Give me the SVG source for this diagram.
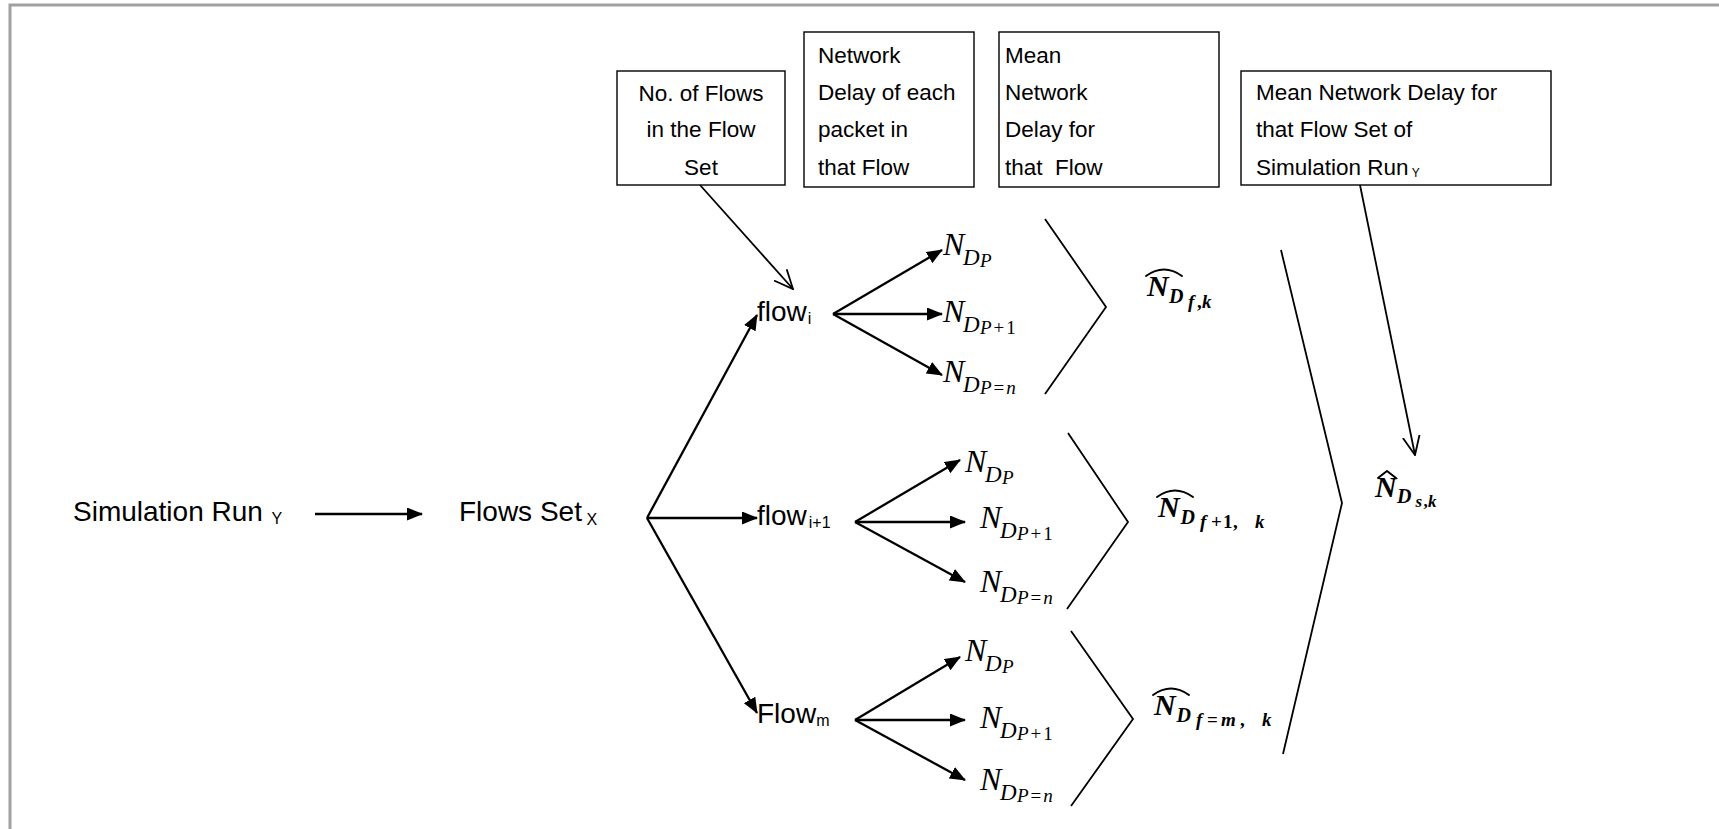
<svg xmlns="http://www.w3.org/2000/svg" width="1719" height="829" viewBox="0 0 1719 829">
  <defs>
    <style>
      .sans { font-family: "Liberation Sans", Arial, sans-serif; fill: #000; }
      .box rect { fill: #fff; stroke: #000; stroke-width: 1.4; }
      .box text { font-size: 22.5px; }
      .lbl { font-size: 28px; }
      .sub { font-size: 16px; }
      .m { font-family: "Liberation Serif", "Times New Roman", serif; font-style: italic; fill: #000; }
      .mb { font-family: "Liberation Serif", "Times New Roman", serif; font-style: italic; font-weight: bold; fill: #000; }
      .up { font-style: normal; }
      .arrow { fill: none; stroke: #000; stroke-width: 2.3; }
      .note { fill: none; stroke: #000; stroke-width: 1.8; }
      .brace { fill: none; stroke: #000; stroke-width: 1.8; }
      .hat { fill: none; stroke: #000; stroke-width: 2; stroke-linecap: round; stroke-linejoin: round; }
    </style>
    <marker id="tri" viewBox="0 0 16 13" refX="15" refY="6.5" markerWidth="16" markerHeight="13" markerUnits="userSpaceOnUse" orient="auto">
      <path d="M0,0 L16,6.5 L0,13 z" fill="#000"/>
    </marker>
    <marker id="vee" viewBox="0 0 20 20" refX="19" refY="10" markerWidth="20" markerHeight="20" markerUnits="userSpaceOnUse" orient="auto">
      <path d="M0,1.5 L19,10 L0,18.5" fill="none" stroke="#000" stroke-width="1.8"/>
    </marker>
  </defs>

  <rect x="0" y="0" width="1719" height="829" fill="#fff"/>
  <!-- page frame (top and left edges only) -->
  <path d="M10,829 V5 H1719" fill="none" stroke="#a0a0a0" stroke-width="3"/>

  <!-- annotation boxes -->
  <g id="box-flow-count" class="box sans">
    <rect x="617" y="71" width="168" height="114"/>
    <text x="701" y="101" text-anchor="middle">No. of Flows</text>
    <text x="701" y="137" text-anchor="middle">in the Flow</text>
    <text x="701" y="175" text-anchor="middle">Set</text>
  </g>
  <g id="box-packet-delay" class="box sans">
    <rect x="804" y="32" width="170" height="155"/>
    <text x="818" y="63">Network</text>
    <text x="818" y="100">Delay of each</text>
    <text x="818" y="137">packet in</text>
    <text x="818" y="175">that Flow</text>
  </g>
  <g id="box-flow-mean" class="box sans">
    <rect x="999" y="32" width="220" height="155"/>
    <text x="1005" y="63">Mean</text>
    <text x="1005" y="100">Network</text>
    <text x="1005" y="137">Delay for</text>
    <text x="1005" y="175" xml:space="preserve">that  Flow</text>
  </g>
  <g id="box-set-mean" class="box sans">
    <rect x="1241" y="71" width="310" height="114"/>
    <text x="1256" y="100">Mean Network Delay for</text>
    <text x="1256" y="137">that Flow Set of</text>
    <text x="1256" y="175">Simulation Run<tspan font-size="12" dy="2" xml:space="preserve"> Y</tspan></text>
  </g>

  <!-- run and flow set -->
  <g id="node-run" class="sans">
    <text class="lbl" x="73" y="521">Simulation Run<tspan class="sub" dy="3" xml:space="preserve">  Y</tspan></text>
  </g>
  <g id="node-flowset" class="sans">
    <text class="lbl" x="459" y="521">Flows Set<tspan class="sub" dy="4" xml:space="preserve"> X</tspan></text>
  </g>

  <!-- individual flows -->
  <g id="node-flow-i" class="sans">
    <text class="lbl" x="757" y="321">flow<tspan class="sub" dx="1" dy="3">i</tspan></text>
  </g>
  <g id="node-flow-i1" class="sans">
    <text class="lbl" x="757" y="525">flow<tspan class="sub" dx="2" dy="3">i+1</tspan></text>
  </g>
  <g id="node-flow-m" class="sans">
    <text class="lbl" x="757" y="723">Flow<tspan class="sub" dy="3">m</tspan></text>
  </g>

  <!-- per-packet delays, flow i -->
  <g id="ndp-i-a"><text class="m"><tspan x="943" y="255" font-size="32">N</tspan><tspan x="963" y="265" font-size="23">D</tspan><tspan x="980" y="267" font-size="19">P</tspan></text></g>
  <g id="ndp-i-b"><text class="m"><tspan x="943" y="322" font-size="32">N</tspan><tspan x="963" y="332" font-size="23">D</tspan><tspan x="980" y="334" font-size="19">P<tspan class="up" dx="2">+</tspan><tspan class="up" dx="2">1</tspan></tspan></text></g>
  <g id="ndp-i-c"><text class="m"><tspan x="943" y="382" font-size="32">N</tspan><tspan x="963" y="392" font-size="23">D</tspan><tspan x="980" y="394" font-size="19">P<tspan class="up" dx="2">=</tspan><tspan dx="2">n</tspan></tspan></text></g>

  <!-- per-packet delays, flow i+1 -->
  <g id="ndp-i1-a"><text class="m"><tspan x="965" y="472" font-size="32">N</tspan><tspan x="985" y="482" font-size="23">D</tspan><tspan x="1002" y="484" font-size="19">P</tspan></text></g>
  <g id="ndp-i1-b"><text class="m"><tspan x="980" y="528" font-size="32">N</tspan><tspan x="1000" y="538" font-size="23">D</tspan><tspan x="1017" y="540" font-size="19">P<tspan class="up" dx="2">+</tspan><tspan class="up" dx="2">1</tspan></tspan></text></g>
  <g id="ndp-i1-c"><text class="m"><tspan x="980" y="592" font-size="32">N</tspan><tspan x="1000" y="602" font-size="23">D</tspan><tspan x="1017" y="604" font-size="19">P<tspan class="up" dx="2">=</tspan><tspan dx="2">n</tspan></tspan></text></g>

  <!-- per-packet delays, flow m -->
  <g id="ndp-m-a"><text class="m"><tspan x="965" y="661" font-size="32">N</tspan><tspan x="985" y="671" font-size="23">D</tspan><tspan x="1002" y="673" font-size="19">P</tspan></text></g>
  <g id="ndp-m-b"><text class="m"><tspan x="980" y="728" font-size="32">N</tspan><tspan x="1000" y="738" font-size="23">D</tspan><tspan x="1017" y="740" font-size="19">P<tspan class="up" dx="2">+</tspan><tspan class="up" dx="2">1</tspan></tspan></text></g>
  <g id="ndp-m-c"><text class="m"><tspan x="980" y="790" font-size="32">N</tspan><tspan x="1000" y="800" font-size="23">D</tspan><tspan x="1017" y="802" font-size="19">P<tspan class="up" dx="2">=</tspan><tspan dx="2">n</tspan></tspan></text></g>

  <!-- mean delay per flow -->
  <g id="mean-flow-i">
    <path class="hat" d="M1146,276 Q1164,263 1182,276"/>
    <text class="mb"><tspan x="1147" y="296" font-size="30">N</tspan><tspan x="1169" y="302.5" font-size="20">D</tspan><tspan x="1188" y="307.5" font-size="19">f</tspan><tspan class="up" x="1197" y="307.5" font-size="19">,</tspan><tspan x="1202" y="307.5" font-size="19">k</tspan></text>
  </g>
  <g id="mean-flow-i1">
    <path class="hat" d="M1157,497 Q1175,484 1193,497"/>
    <text class="mb"><tspan x="1158" y="517" font-size="30">N</tspan><tspan x="1180.5" y="523.5" font-size="20">D</tspan><tspan x="1200" y="528" font-size="19">f</tspan><tspan class="up" x="1211" y="528" font-size="19">+</tspan><tspan class="up" x="1223" y="528" font-size="19">1</tspan><tspan class="up" x="1233" y="528" font-size="19">,</tspan><tspan x="1255" y="528" font-size="19">k</tspan></text>
  </g>
  <g id="mean-flow-m">
    <path class="hat" d="M1153,695 Q1171,682 1189,695"/>
    <text class="mb"><tspan x="1154" y="715" font-size="30">N</tspan><tspan x="1176.5" y="721.5" font-size="20">D</tspan><tspan x="1196" y="726" font-size="19">f</tspan><tspan class="up" x="1207" y="726" font-size="19">=</tspan><tspan x="1221" y="726" font-size="19">m</tspan><tspan class="up" x="1240" y="726" font-size="19">,</tspan><tspan x="1262" y="726" font-size="19">k</tspan></text>
  </g>

  <!-- mean delay of the flow set -->
  <g id="mean-set">
    <path class="hat" d="M1378,478 L1387,471 L1396,478" stroke-width="2.4"/>
    <text class="mb"><tspan x="1375" y="497" font-size="30">N</tspan><tspan x="1397" y="503.3" font-size="20">D</tspan><tspan x="1415.5" y="506.7" font-size="17">s</tspan><tspan class="up" x="1423.5" y="506.7" font-size="17">,</tspan><tspan x="1428" y="506.7" font-size="17">k</tspan></text>
  </g>

  <!-- connectors -->
  <g id="connectors">
    <path class="arrow" d="M315,514 H422" stroke-width="2.5" marker-end="url(#tri)"/>

    <path class="arrow" d="M647,518 L757,315" marker-end="url(#tri)"/>
    <path class="arrow" d="M647,518 L757,518" marker-end="url(#tri)"/>
    <path class="arrow" d="M647,518 L757,713" marker-end="url(#tri)"/>

    <path class="arrow" d="M833,314 L942,250" marker-end="url(#tri)"/>
    <path class="arrow" d="M833,314 L942,314" marker-end="url(#tri)"/>
    <path class="arrow" d="M833,314 L942,375" marker-end="url(#tri)"/>

    <path class="arrow" d="M855,522 L960,460" marker-end="url(#tri)"/>
    <path class="arrow" d="M855,522 L965,522" marker-end="url(#tri)"/>
    <path class="arrow" d="M855,522 L965,582" marker-end="url(#tri)"/>

    <path class="arrow" d="M855,720 L960,657" marker-end="url(#tri)"/>
    <path class="arrow" d="M855,720 L965,720" marker-end="url(#tri)"/>
    <path class="arrow" d="M855,720 L965,780" marker-end="url(#tri)"/>

    <path class="note" d="M700,185 L793,289" marker-end="url(#vee)"/>
    <path class="note" d="M1360,185 L1415,455" marker-end="url(#vee)"/>

    <polyline class="brace" points="1045,219 1106,307 1045,394"/>
    <polyline class="brace" points="1068,433 1128,522 1067,609"/>
    <polyline class="brace" points="1071,631 1133,719 1071,806"/>
    <polyline class="brace" points="1281,250 1342,503 1283,754" stroke-width="2"/>
  </g>
</svg>
